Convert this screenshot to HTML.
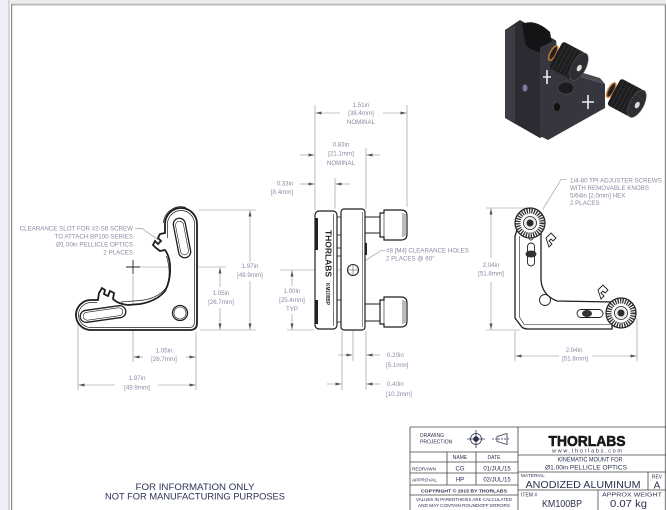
<!DOCTYPE html>
<html><head><meta charset="utf-8">
<style>
html,body{margin:0;padding:0;background:#fff;}
svg{display:block;}
text{font-family:"Liberation Sans",sans-serif;}
.d{fill:#878ea3;font-size:6.2px;}
.dl{stroke:#8f8f8f;stroke-width:0.6;fill:none;}
.k{stroke:#1e1e1e;fill:none;}
.t{fill:#2a3150;}
.tl{stroke:#444;stroke-width:0.8;fill:none;}
</style></head><body>
<svg width="666" height="510" viewBox="0 0 666 510" xmlns="http://www.w3.org/2000/svg">
<defs>
<marker id="a" viewBox="0 0 8 4" refX="8" refY="2" markerWidth="6" markerHeight="3" orient="auto" markerUnits="userSpaceOnUse"><path d="M0,0L8,2L0,4z" fill="#555"/></marker>
</defs>

<!-- frame -->
<rect x="0" y="0" width="666" height="3" fill="#ececec"/>
<rect x="0" y="0" width="8" height="510" fill="#eef0f5"/>
<rect x="8" y="0" width="2" height="510" fill="#d5d7dc"/>
<rect x="11" y="3.5" width="655" height="2" fill="#b8b8b8"/>
<rect x="11" y="4" width="1.2" height="506" fill="#8a8a8a"/>
<rect x="664.8" y="5" width="1.2" height="505" fill="#8a8a8a"/>

<!-- ================= LEFT VIEW ================= -->
<g class="dl">
<path d="M199,210H256 M200,330H256 M140,267H226 M133,275V362 M78,323V390 M196,332V390"/>
<line x1="250" y1="262" x2="250" y2="210.5" marker-end="url(#a)"/>
<line x1="250" y1="281" x2="250" y2="329.5" marker-end="url(#a)"/>
<line x1="220" y1="287" x2="220" y2="267.5" marker-end="url(#a)"/>
<line x1="220" y1="308" x2="220" y2="329.5" marker-end="url(#a)"/>
<line x1="143" y1="357" x2="133.5" y2="357" marker-end="url(#a)"/>
<line x1="186" y1="357" x2="195.5" y2="357" marker-end="url(#a)"/>
<line x1="115" y1="385" x2="78.5" y2="385" marker-end="url(#a)"/>
<line x1="158" y1="385" x2="195.5" y2="385" marker-end="url(#a)"/>
<path d="M135,228.3H141.7L158.3,240"/>
</g>
<g class="d" text-anchor="middle">
<text x="250" y="268">1.97in</text><text x="250" y="277">[49.9mm]</text>
<text x="221" y="295">1.05in</text><text x="221" y="304">[26.7mm]</text>
<text x="164" y="352.5">1.05in</text><text x="164" y="361">[26.7mm]</text>
<text x="137" y="380">1.97in</text><text x="137" y="389.5">[49.9mm]</text>
</g>
<g class="d" text-anchor="end">
<text x="133" y="230.5">CLEARANCE SLOT FOR #2-S6 SCREW</text>
<text x="133" y="238.5">TO ATTACH BP100 SERIES</text>
<text x="133" y="246.5">Ø1.00in PELLICLE OPTICS</text>
<text x="133" y="254.5">2 PLACES</text>
</g>
<!-- left part -->
<g class="k">
<path stroke-width="1.8" fill="#fff" d="M165,224 A16,16 0 0 1 197,224 L197,323 Q197,330 190,330 L91,330 A15,15 0 0 1 91,300 L98,300 L99,293 L102,288 L105,290 L104,294 L108,296 L110,291 L114,293 L113,299 Q118,304 128,305 L140,304 Q157,301 165,291 Q171,280 170,265 Q169,255 165,250 L160,251 L156,248 L153,245 L155,241 L158,244 L161,241 L158,238 L160,234 L165,233 Z"/>
<path stroke-width="0.7" d="M167.5,238 V224 A13.5,13.5 0 0 1 194.5,224 V322 Q194.5,327.5 189,327.5 L91,327.5 A12.5,12.5 0 0 1 91,302.5 L97,302.5"/>
<path stroke-width="0.8" d="M163.5,223 A17.5,17.5 0 0 1 186,207.5 M76,318 A15.5,15.5 0 0 1 86,300.5"/>
<path stroke-width="0.7" d="M166.5,256 Q172,275 166,288 Q157,299 140,300.5 L121,302"/>
<rect x="176" y="218" width="12" height="40" rx="6" transform="rotate(-11 182 238)" stroke-width="1.3"/>
<rect x="178" y="221" width="8" height="34" rx="4" transform="rotate(-11 182 238)" stroke-width="0.6"/>
<rect x="80" y="308" width="46" height="12" rx="6" transform="rotate(-8 103 314)" stroke-width="1.3"/>
<rect x="83" y="310" width="40" height="8" rx="4" transform="rotate(-8 103 314)" stroke-width="0.6"/>
<circle cx="180" cy="313" r="7.5" stroke-width="1.3"/>
<circle cx="180" cy="313" r="6" stroke-width="0.6"/>
</g>
<path d="M126,267H140M133,260V274" stroke="#222" stroke-width="0.9"/>

<!-- ================= MIDDLE VIEW ================= -->
<g class="dl">
<path d="M315,105V210 M407,105V207 M366,148V209 M335,178V209 M280,270H347 M287,330H314 M342,331V390 M353,276V361 M366,331V390"/>
<line x1="340" y1="113" x2="315.5" y2="113" marker-end="url(#a)"/>
<line x1="383" y1="113" x2="406.5" y2="113" marker-end="url(#a)"/>
<line x1="300" y1="155" x2="314.5" y2="155" marker-end="url(#a)"/>
<line x1="380" y1="155" x2="366.5" y2="155" marker-end="url(#a)"/>
<line x1="300" y1="184" x2="314.5" y2="184" marker-end="url(#a)"/>
<line x1="350" y1="184" x2="335.5" y2="184" marker-end="url(#a)"/>
<line x1="292" y1="286" x2="292" y2="270.5" marker-end="url(#a)"/>
<line x1="292" y1="314" x2="292" y2="329.5" marker-end="url(#a)"/>
<line x1="338" y1="355" x2="352.5" y2="355" marker-end="url(#a)"/>
<line x1="380" y1="355" x2="366.5" y2="355" marker-end="url(#a)"/>
<line x1="327" y1="384" x2="341.5" y2="384" marker-end="url(#a)"/>
<line x1="380" y1="384" x2="366.5" y2="384" marker-end="url(#a)"/>
<path d="M385,250.5H381L357,266"/>
</g>
<g class="d" text-anchor="middle">
<text x="361" y="107">1.51in</text><text x="361" y="115">[38.4mm]</text><text x="361" y="124">NOMINAL</text>
<text x="341" y="146.5">0.83in</text><text x="341" y="155.5">[21.1mm]</text><text x="341" y="165">NOMINAL</text>
<text x="285" y="185.5">0.33in</text><text x="282" y="194">[8.4mm]</text>
<text x="292" y="293">1.00in</text><text x="292" y="302">[25.4mm]</text><text x="292" y="311">TYP</text>
</g>
<g class="d">
<text x="386" y="252.5">#8 [M4] CLEARANCE HOLES</text>
<text x="386" y="260.5">2 PLACES @ 90°</text>
<text x="387" y="357">0.20in</text><text x="386" y="367">[5.1mm]</text>
<text x="387" y="386">0.40in</text><text x="386" y="396">[10.2mm]</text>
</g>
<g class="k">
<rect x="315" y="211" width="22" height="118" rx="4" stroke-width="1.2" fill="#fff"/>
<line x1="333.5" y1="214" x2="333.5" y2="326" stroke-width="0.6"/>
<rect x="337" y="217" width="4" height="18" stroke-width="0.8"/>
<rect x="337" y="248" width="4" height="8" stroke-width="0.8"/>
<rect x="337" y="300" width="4" height="22" stroke-width="0.8"/>
<rect x="341" y="209" width="24" height="121" rx="3" stroke-width="1.2" fill="#fff"/>
<line x1="362.5" y1="212" x2="362.5" y2="327" stroke-width="0.5"/>
<rect x="365" y="217" width="15" height="16" stroke-width="1"/>
<rect x="365" y="304" width="15" height="17" stroke-width="1"/>
<path stroke-width="1.2" fill="#fff" d="M380,213 H384 V210 H401 Q407,210 407,216 V234 Q407,240 401,240 H384 V237 H380 Z"/>
<path stroke-width="1.2" fill="#fff" d="M380,300 H384 V297 H401 Q407,297 407,303 V321 Q407,327 401,327 H384 V324 H380 Z"/>
<path stroke-width="0.6" d="M384,210V240 M403,213V237 M405,214V236 M384,297V327 M403,300V324 M405,301V323"/>
<circle cx="353" cy="270" r="5.5" stroke-width="1.1" fill="#fff"/>
</g>
<path d="M347,270H359M353,264V276" stroke="#444" stroke-width="0.5"/>
<rect x="315" y="218" width="3" height="32" fill="#222"/>
<rect x="315" y="300" width="3" height="24" fill="#222"/>
<rect x="365" y="243" width="2" height="12" fill="#222"/>
<text transform="translate(325.5,230) rotate(90)" font-size="8" font-weight="bold" fill="#222" textLength="47" lengthAdjust="spacingAndGlyphs">THORLABS</text>
<text transform="translate(326,283) rotate(90)" font-size="5.5" font-weight="bold" fill="#222" textLength="22" lengthAdjust="spacingAndGlyphs">KM100BP</text>

<!-- ================= RIGHT VIEW ================= -->
<g class="dl">
<path d="M486,208H527 M486,330H520 M515,331V361 M637,318V361"/>
<line x1="491" y1="258" x2="491" y2="208.5" marker-end="url(#a)"/>
<line x1="491" y1="282" x2="491" y2="329.5" marker-end="url(#a)"/>
<line x1="559" y1="356" x2="515.5" y2="356" marker-end="url(#a)"/>
<line x1="592" y1="356" x2="636.5" y2="356" marker-end="url(#a)"/>
<path d="M567,179.5H561L543,209"/>
</g>
<g class="d" text-anchor="middle">
<text x="491" y="267">2.04in</text><text x="491" y="275.5">[51.8mm]</text>
<text x="574" y="352">2.04in</text><text x="575" y="360.5">[51.8mm]</text>
</g>
<g class="d">
<text x="570" y="182.5">1/4-80 TPI ADJUSTER SCREWS</text>
<text x="570" y="190">WITH REMOVABLE KNOBS</text>
<text x="570" y="197.5">5/64in [2.0mm] HEX</text>
<text x="570" y="205">2 PLACES</text>
</g>
<g class="k">
<path stroke-width="1.3" fill="#fff" d="M517,230 L515,236 V318 L521,326 Q523,329 528,329 L612,329 L612,302 L557,301 Q542,295 541,280 V232 Z"/>
<path stroke-width="0.6" d="M519.5,236 V317 L524,324.5 L610,324.5"/>
<circle cx="531" cy="238" r="2" stroke-width="0.8"/>
<rect x="527.5" y="243" width="7" height="23" rx="3.5" stroke-width="0.9"/>
<rect x="577" y="309.5" width="26" height="8" rx="4" stroke-width="0.9"/>
<circle cx="545" cy="300" r="5.5" stroke-width="0.9"/>
<path stroke-width="0.9" d="M546,238 L551,233 L556,238 L553,241 L551,239 L549,241 L552,244 L549,247 Z"/>
<path stroke-width="0.9" d="M598,290 L603,285 L608,290 L605,293 L603,291 L601,293 L604,296 L601,299 Z"/>
</g>
<ellipse cx="531" cy="254" rx="5.5" ry="3.5" fill="#333"/>
<ellipse cx="587" cy="313.5" rx="5" ry="3.5" fill="#333"/>
<circle cx="530" cy="223" r="15" fill="#fff" stroke="#222" stroke-width="1.2"/>
<circle cx="530" cy="223" r="12" fill="none" stroke="#333" stroke-width="5" stroke-dasharray="1.3 1.1"/>
<circle cx="530" cy="223" r="6.5" fill="#eee" stroke="#222" stroke-width="0.8"/>
<circle cx="530" cy="223" r="3.5" fill="#2a2a2a"/>
<circle cx="621" cy="313" r="15" fill="#fff" stroke="#222" stroke-width="1.2"/>
<circle cx="621" cy="313" r="12" fill="none" stroke="#333" stroke-width="5" stroke-dasharray="1.3 1.1"/>
<circle cx="621" cy="313" r="6.5" fill="#eee" stroke="#222" stroke-width="0.8"/>
<circle cx="621" cy="313" r="3.5" fill="#2a2a2a"/>

<!-- ================= PHOTO ================= -->
<polygon points="505,30 520,20 555,40 555,130 540,138 505,118" fill="#2b2b31"/>
<polygon points="505,30 515,25 515,122 505,118" fill="#3c3c45"/>
<path d="M522,24 Q535,18 550,32 L553,50 Q540,56 526,46 Z" fill="#141416"/>
<polygon points="540,47 556,40 558,70 605,84 605,108 548,140 540,136" fill="#36363f"/>
<polygon points="556,40 558,70 605,84 600,78 560,66" fill="#4a4a55"/>
<ellipse cx="525" cy="88" rx="2.5" ry="3.5" fill="#7a7a9a"/>
<ellipse cx="557" cy="107" rx="3" ry="4" fill="#111"/>
<ellipse cx="566" cy="88" rx="8" ry="6" fill="#1c1c20" stroke="#555" stroke-width="0.6"/>
<path d="M547,70V84M543,77H551" stroke="#eee" stroke-width="1.6"/>
<path d="M588,95V109M582,102H594" stroke="#eee" stroke-width="1.6"/>
<g transform="translate(570,62) rotate(28)">
<ellipse cx="-19" cy="0" rx="3" ry="8" fill="#222" stroke="#c87a3a" stroke-width="1.5"/>
<rect x="-16" y="-15" width="26" height="30" rx="3" fill="#1d1d20"/>
<path d="M-12,-15V15M-8,-15V15M-4,-15V15M0,-15V15M4,-15V15" stroke="#333" stroke-width="0.8"/>
<ellipse cx="10" cy="0" rx="7" ry="15" fill="#2e2e33" stroke="#555" stroke-width="0.6"/>
<ellipse cx="11" cy="1" rx="2.2" ry="3.5" fill="#ddd"/>
</g>
<g transform="translate(628,99) rotate(28)">
<ellipse cx="-19" cy="0" rx="3" ry="8" fill="#222" stroke="#c87a3a" stroke-width="1.5"/>
<rect x="-16" y="-15" width="26" height="30" rx="3" fill="#1d1d20"/>
<path d="M-12,-15V15M-8,-15V15M-4,-15V15M0,-15V15M4,-15V15" stroke="#333" stroke-width="0.8"/>
<ellipse cx="10" cy="0" rx="7" ry="15" fill="#2e2e33" stroke="#555" stroke-width="0.6"/>
<ellipse cx="11" cy="1" rx="2.2" ry="3.5" fill="#ddd"/>
</g>

<!-- ================= TITLE BLOCK ================= -->
<g class="tl">
<path d="M410,427H666 M410,427V510 M518,427V510 M410,452H518 M410,462H518 M410,473H518 M410,485H518 M410,495H518 M447,452V485 M476,452V485 M518,455H666 M518,472H666 M518,490H666 M648,472V490 M598,490V510"/>
</g>
<g class="t">
<text x="420" y="437" font-size="5">DRAWING</text>
<text x="420" y="443.7" font-size="5">PROJECTION</text>
<text x="460" y="459" font-size="5" text-anchor="middle">NAME</text>
<text x="494" y="459" font-size="5" text-anchor="middle">DATE</text>
<text x="412" y="470.5" font-size="4.8" textLength="24" lengthAdjust="spacingAndGlyphs">REDRAWN</text>
<text x="460" y="470.5" font-size="6" text-anchor="middle">CG</text>
<text x="497" y="470.5" font-size="6" text-anchor="middle">01/JUL/15</text>
<text x="412" y="481.5" font-size="4.8" textLength="25" lengthAdjust="spacingAndGlyphs">APPROVAL</text>
<text x="460" y="481.5" font-size="6" text-anchor="middle">HP</text>
<text x="497" y="481.5" font-size="6" text-anchor="middle">02/JUL/15</text>
<text x="464" y="492.5" font-size="4.4" font-weight="bold" text-anchor="middle" textLength="86" lengthAdjust="spacingAndGlyphs">COPYRIGHT © 2015 BY THORLABS</text>
<text x="464" y="501" font-size="4.2" text-anchor="middle" textLength="96" lengthAdjust="spacingAndGlyphs">VALUES IN PARENTHESIS ARE CALCULATED</text>
<text x="464" y="507" font-size="4.2" text-anchor="middle" textLength="92" lengthAdjust="spacingAndGlyphs">AND MAY CONTAIN ROUNDOFF ERRORS</text>
<text x="587" y="446" font-size="15" font-weight="bold" text-anchor="middle" fill="#1a1a1a" stroke="#1a1a1a" stroke-width="0.6" textLength="77" lengthAdjust="spacingAndGlyphs">THORLABS</text>
<text x="587" y="452.5" font-size="5.5" text-anchor="middle" textLength="70" lengthAdjust="spacing">www.thorlabs.com</text>
<text x="590" y="461.5" font-size="6.3" text-anchor="middle" textLength="65" lengthAdjust="spacingAndGlyphs">KINEMATIC MOUNT FOR</text>
<text x="586" y="469.5" font-size="6.3" text-anchor="middle" textLength="82" lengthAdjust="spacingAndGlyphs">Ø1.00in PELLICLE OPTICS</text>
<text x="521" y="477" font-size="4.8">MATERIAL</text>
<text x="583" y="488" font-size="10" text-anchor="middle" textLength="115" lengthAdjust="spacingAndGlyphs">ANODIZED ALUMINUM</text>
<text x="657" y="478.5" font-size="5" text-anchor="middle">REV</text>
<text x="657" y="488.5" font-size="10" text-anchor="middle">A</text>
<text x="521" y="496.5" font-size="5">ITEM #</text>
<text x="562" y="507" font-size="10" text-anchor="middle" textLength="40" lengthAdjust="spacingAndGlyphs">KM100BP</text>
<text x="632" y="496.5" font-size="5.8" text-anchor="middle" textLength="60" lengthAdjust="spacingAndGlyphs">APPROX WEIGHT</text>
<text x="628.5" y="507" font-size="10" text-anchor="middle" textLength="37" lengthAdjust="spacingAndGlyphs">0.07 kg</text>
</g>
<!-- projection symbols -->
<g stroke="#2a3150" fill="none" stroke-width="0.8">
<circle cx="476" cy="439" r="5.5"/>
<circle cx="476" cy="439" r="2.4" fill="#2a3150"/>
<path d="M467,439H485M476,430V448"/>
<path d="M497,436.5L507,433.5V444.5L497,441.5Z"/>
<path d="M492,439H510" stroke-dasharray="2 1"/>
</g>

<!-- bottom note -->
<text x="195" y="490" font-size="9" text-anchor="middle" fill="#2b3356" textLength="119" lengthAdjust="spacingAndGlyphs">FOR INFORMATION ONLY</text>
<text x="195" y="499.5" font-size="9" text-anchor="middle" fill="#2b3356" textLength="180" lengthAdjust="spacingAndGlyphs">NOT FOR MANUFACTURING PURPOSES</text>
</svg>
</body></html>
